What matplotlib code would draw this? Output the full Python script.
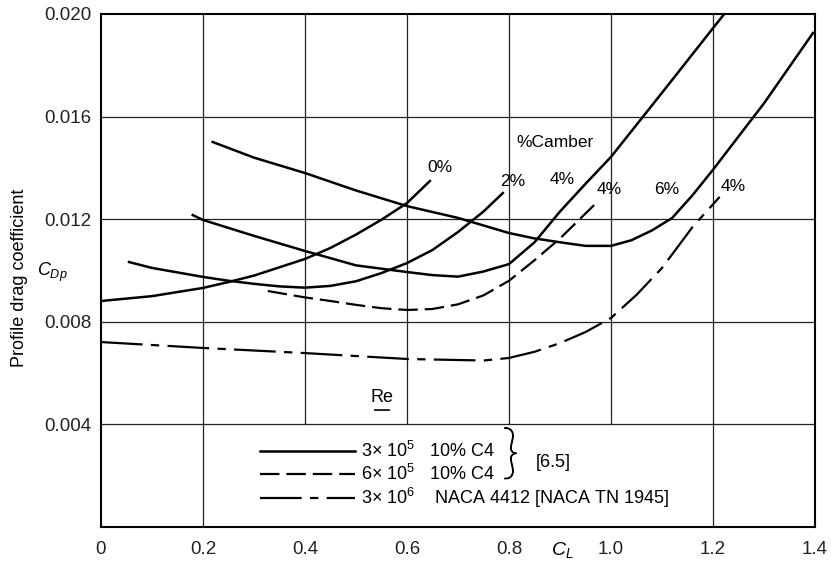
import numpy as np
import matplotlib
matplotlib.use('Agg')
from matplotlib import pyplot as plt
from matplotlib import patheffects

plt.rcParams['font.family'] = ['Liberation Sans', 'DejaVu Sans']
plt.rcParams['mathtext.fontset'] = 'custom'
plt.rcParams['mathtext.rm'] = 'Liberation Sans'
plt.rcParams['mathtext.it'] = 'Liberation Sans:italic'
plt.rcParams['lines.scale_dashes'] = False

# Data (C_L vs profile drag coefficient)
# Re = 3x10^5, 10% C4 sections, camber 0/2/4/6 %
cl_c0 = [0.0, 0.1, 0.2, 0.25, 0.3, 0.4, 0.45, 0.5, 0.55, 0.6, 0.645]
cd_c0 = [0.00881, 0.00900, 0.00932, 0.00955, 0.00980, 0.01045, 0.01088, 0.01140, 0.01198, 0.01263, 0.01349]

cl_c2 = [0.055, 0.1, 0.2, 0.25, 0.3, 0.35, 0.4, 0.45, 0.5, 0.55, 0.6, 0.65, 0.7, 0.75, 0.788]
cd_c2 = [0.01033, 0.01010, 0.00975, 0.00960, 0.00948, 0.00938, 0.00933, 0.00940, 0.00958, 0.00990,
         0.01029, 0.01080, 0.01150, 0.01230, 0.01302]

cl_c4 = [0.18, 0.2, 0.3, 0.4, 0.5, 0.6, 0.65, 0.7, 0.75, 0.8, 0.85, 0.9, 0.95, 1.0, 1.1, 1.2, 1.222]
cd_c4 = [0.01216, 0.01197, 0.01135, 0.01076, 0.01020, 0.00994, 0.00982, 0.00976, 0.00996, 0.01025,
         0.01110, 0.01230, 0.01338, 0.01443, 0.01693, 0.01945, 0.02000]

cl_c6 = [0.219, 0.3, 0.4, 0.5, 0.6, 0.7, 0.8, 0.85, 0.9, 0.95, 1.0, 1.04, 1.08, 1.12, 1.16, 1.2, 1.3, 1.396]
cd_c6 = [0.01501, 0.01440, 0.01380, 0.01312, 0.01251, 0.01205, 0.01146, 0.01125, 0.01110, 0.01096,
         0.01096, 0.01118, 0.01156, 0.01205, 0.01294, 0.01393, 0.01652, 0.01926]

# Re = 6x10^5, 10% C4, 4% camber
cl_re6 = [0.327, 0.4, 0.45, 0.5, 0.55, 0.6, 0.65, 0.7, 0.75, 0.8, 0.85, 0.9, 0.973]
cd_re6 = [0.00920, 0.00895, 0.00881, 0.00866, 0.00853, 0.00846, 0.00850, 0.00868, 0.00903, 0.00960,
          0.01040, 0.01125, 0.01267]

# Re = 3x10^6, NACA 4412
cl_naca = [0.0, 0.2, 0.4, 0.6, 0.7, 0.75, 0.8, 0.85, 0.9, 0.95, 1.0, 1.05, 1.1, 1.16, 1.213]
cd_naca = [0.00721, 0.00698, 0.00678, 0.00655, 0.00651, 0.00649, 0.00659, 0.00683, 0.00717, 0.00760,
           0.00815, 0.00905, 0.01010, 0.01170, 0.01287]

# camber labels: text, C_L, C_Dp
camber_labels = ['0%', '2%', '4%', '4%', '6%', '4%']
camber_label_x = [0.665, 0.808, 0.904, 0.996, 1.11, 1.239]
camber_label_y = [0.0140, 0.01345, 0.01353, 0.01314, 0.01314, 0.01326]

x_ticks = [0, 0.2, 0.4, 0.6, 0.8, 1.0, 1.2, 1.4]
y_ticks = [0.004, 0.008, 0.012, 0.016, 0.020]
x_tick_labels = ['0', '0.2', '0.4', '0.6', '0.8', '1.0', '1.2', '1.4']
y_tick_labels = ['0.004', '0.008', '0.012', '0.016', '0.020']

fig = plt.figure(figsize=(8.31, 5.62), dpi=100)
ax = fig.add_axes([0.1215, 0.0623, 0.8593, 0.9128])
ax.set_xlim(0, 1.4)
ax.set_ylim(0, 0.020)

# grid: the legend area (C_Dp < 0.004, 0.2 < C_L < 1.2) is left open
for x in x_ticks[1:-1]:
    ymin = 0 if x in (0.2, 1.2) else 0.004 / 0.020
    ax.axvline(x, ymin=ymin, color='#222222', lw=0.9, zorder=1)
for y in y_ticks[:-1]:
    ax.axhline(y, color='#222222', lw=0.9, zorder=1)

kw = dict(color='black', lw=1.8, zorder=3)
l1, = ax.plot(cl_c0, cd_c0, **kw)
ax.plot(cl_c2, cd_c2, **kw)
ax.plot(cl_c4, cd_c4, **kw)
ax.plot(cl_c6, cd_c6, **kw)
l2, = ax.plot(cl_re6, cd_re6, color='black', lw=1.6, dashes=(14, 5), zorder=3)
l3, = ax.plot(cl_naca, cd_naca, color='black', lw=1.6, dashes=(30, 6, 6, 6), zorder=3)

for txt, x, y in zip(camber_labels, camber_label_x, camber_label_y):
    ax.text(x, y, txt, fontsize=12.5, ha='center', va='center')
ax.text(0.89, 0.0150, '%Camber', fontsize=12.5, ha='center', va='center')

# legend
leg = ax.legend([l1, l2, l3],
                ['3× 10$^5$   10% C4', '6× 10$^5$   10% C4', '3× 10$^6$    NACA 4412 [NACA TN 1945]'],
                loc='upper left', bbox_to_anchor=(0.205, 0.192), frameon=False,
                fontsize=13, handlelength=5.26, handletextpad=0.35, labelspacing=0.14,
                borderpad=0.2)
ax.text(0.803, 0.00278, '}', fontsize=42, ha='center', va='center',
        family='Lato', fontweight='light',
        path_effects=[patheffects.withStroke(linewidth=0.9, foreground='black')])
ax.text(0.852, 0.00250, '[6.5]', fontsize=13, ha='left', va='center')
ax.text(0.551, 0.00503, 'Re', fontsize=13, ha='center', va='center')
ax.annotate('', xy=(0.531, 0.00456), xytext=(0.571, 0.00456),
            arrowprops=dict(arrowstyle='-', lw=1.2, color='black'))

ax.set_xticks(x_ticks)
ax.set_xticklabels(x_tick_labels)
ax.set_yticks(y_ticks)
ax.set_yticklabels(y_tick_labels)
ax.tick_params(length=0, labelsize=13.5, colors='#222222')
ax.tick_params(axis='x', pad=10)
ax.tick_params(axis='y', pad=7)
for s in ax.spines.values():
    s.set_linewidth(1.5)

ax.text(0.905, -0.0009, '$C_L$', fontsize=14, ha='center', va='center', clip_on=False)
fig.text(20 / 831, 1 - 278 / 562, 'Profile drag coefficient', fontsize=13,
         rotation=90, ha='center', va='center')
fig.text(52 / 831, 1 - 272 / 562, '$C_{Dp}$', fontsize=13, ha='center', va='center')

fig.savefig('out.png', dpi=100)
